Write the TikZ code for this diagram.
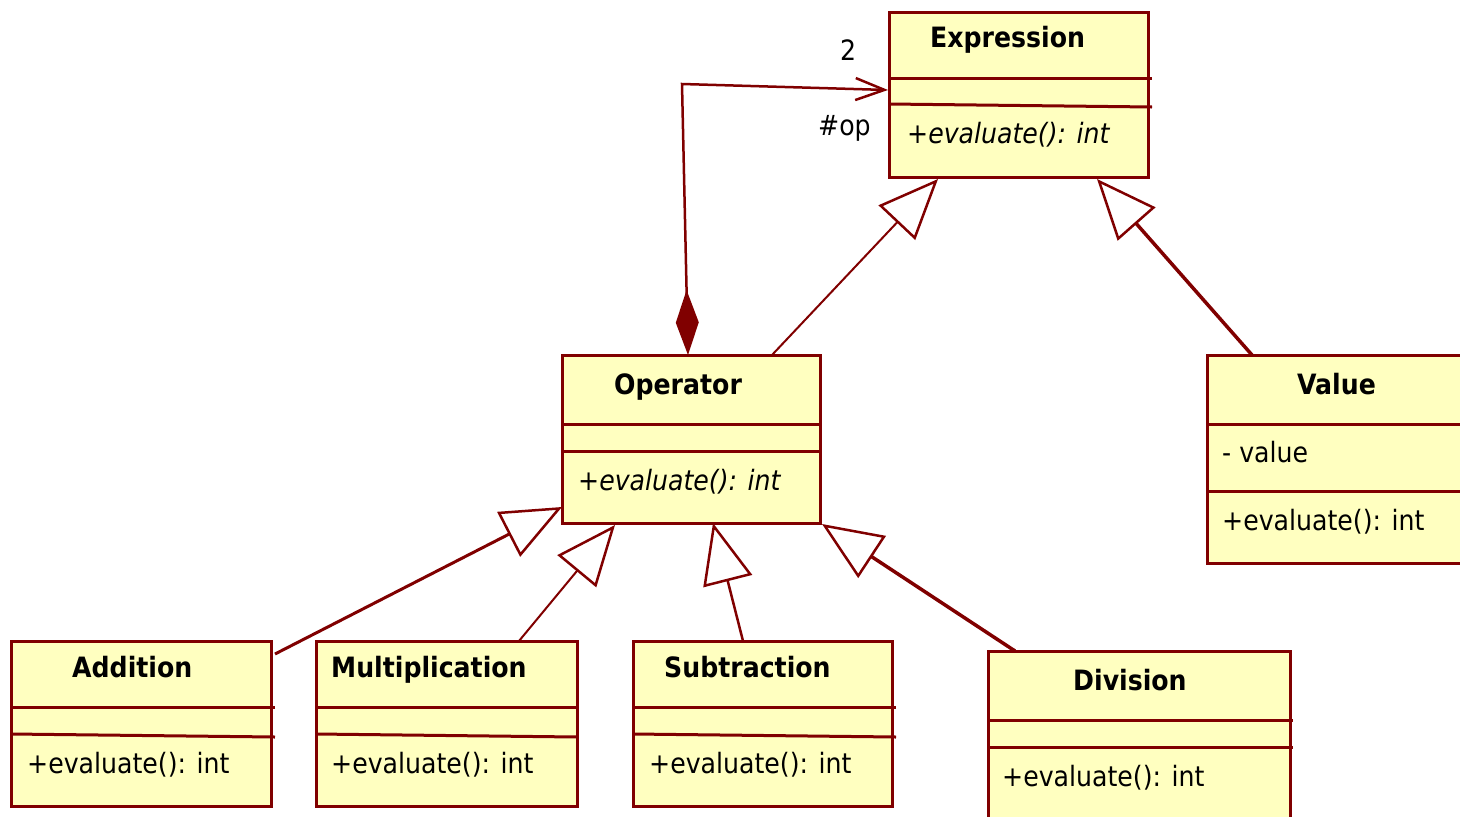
\documentclass[tikz,border=0pt]{standalone}
\usepackage{fontspec}
\setmainfont{DejaVu Sans Condensed}
\usetikzlibrary{arrows.meta}
\definecolor{umlborder}{HTML}{800000}
\definecolor{umlfill}{HTML}{FFFFC0}

\begin{document}
\begin{tikzpicture}[x=1pt,y=-1pt,
  cls/.style={draw=umlborder, fill=umlfill, line width=3pt, anchor=north west,
              inner sep=0pt, outer sep=0pt},
  sep/.style={draw=umlborder, line width=3pt},
  title/.style={anchor=base west, inner sep=0pt, font=\fontsize{28}{32}\selectfont\bfseries},
  member/.style={anchor=base west, inner sep=0pt, font=\fontsize{28}{32}\selectfont},
  abstractop/.style={anchor=base west, inner sep=0pt, font=\fontsize{28}{32}\selectfont\itshape},
  rolelabel/.style={anchor=base west, inner sep=0pt, font=\fontsize{28}{32}\selectfont},
  gen/.style={draw=umlborder, -{Triangle[open, length=60pt, width=50pt, line width=2.5pt]}},
  comp/.style={draw=umlborder, line width=2.5pt,
               {Diamond[length=65pt, width=23pt, fill=umlborder]}-{Straight Barb[length=29pt, width=22pt, line width=2.5pt]}},
]
\useasboundingbox (0,0) rectangle (1460,817);

% ---- Expression (abstract)
\node[cls, minimum width=259pt, minimum height=165pt] (expr) at (889,12) {};
\draw[sep] (889,78) -- (1152,78);
\draw[sep] (889,104) -- (1152,107);
\node[title] (exprT) at (930,47) {Expression};
\node[abstractop] (exprM) at (907,143) {+evaluate(): int};

% ---- Operator (abstract)
\node[cls, minimum width=258pt, minimum height=168pt] (oper) at (562,355) {};
\draw[sep] (562,424) -- (820,424);
\draw[sep] (562,451) -- (820,451);
\node[title] (operT) at (614,394) {Operator};
\node[abstractop] (operM) at (578,490) {+evaluate(): int};

% ---- Value
\node[cls, minimum width=270pt, minimum height=208pt] (value) at (1207,355) {};
\draw[sep] (1207,424) -- (1477,424);
\draw[sep] (1207,491) -- (1477,491);
\node[title] (valueT) at (1297,394) {Value};
\node[member] (valueA) at (1222,462) {- value};
\node[member] (valueM) at (1222,530) {+evaluate(): int};

% ---- Addition
\node[cls, minimum width=260pt, minimum height=165pt] (add) at (11,641) {};
\draw[sep] (11,707) -- (275,707);
\draw[sep] (11,734) -- (275,737);
\node[title] (addT) at (72,677) {Addition};
\node[member] (addM) at (27,773) {+evaluate(): int};

% ---- Multiplication
\node[cls, minimum width=261pt, minimum height=165pt] (mul) at (316,641) {};
\draw[sep] (316,707) -- (577,707);
\draw[sep] (316,734) -- (577,737);
\node[title] (mulT) at (331,677) {Multiplication};
\node[member] (mulM) at (331,773) {+evaluate(): int};

% ---- Subtraction
\node[cls, minimum width=259pt, minimum height=165pt] (sub) at (633,641) {};
\draw[sep] (633,707) -- (896,707);
\draw[sep] (633,734) -- (896,737);
\node[title] (subT) at (664,677) {Subtraction};
\node[member] (subM) at (649,773) {+evaluate(): int};

% ---- Division
\node[cls, minimum width=302pt, minimum height=180pt] (div) at (988,651) {};
\draw[sep] (988,720) -- (1293,720);
\draw[sep] (988,747) -- (1293,747);
\node[title] (divT) at (1073,690) {Division};
\node[member] (divM) at (1002,786) {+evaluate(): int};

% ---- connector end points on the class borders
\coordinate (exprOpIn)   at (888,90);
\coordinate (opBend)     at (682,84);
\coordinate (opWhole)    at (688,355);
\coordinate (exprGenL)   at (938,179);
\coordinate (exprGenR)   at (1097,179);
\coordinate (opGenOut)   at (772,355);
\coordinate (valueGen)   at (1252,355);
\coordinate (opGenAdd)   at (562,507);
\coordinate (opGenMul)   at (615,525);
\coordinate (opGenSub)   at (713,523);
\coordinate (opGenDiv)   at (822,524);
\coordinate (addGen)     at (275,654);
\coordinate (mulGen)     at (519,641);
\coordinate (subGen)     at (743,641);
\coordinate (divGen)     at (1015,651);

% ---- composition: Operator owns two operand Expressions
\draw[comp] (opWhole) -- (opBend) -- (exprOpIn);
\node[rolelabel] (mult) at (840,60) {2};
\node[rolelabel] (role) at (818,135) {\#op};

% ---- generalizations
\draw[gen, line width=2pt]   (opGenOut) -- (exprGenL);
\draw[gen, line width=3.5pt] (valueGen) -- (exprGenR);
\draw[gen, line width=3pt]   (addGen) -- (opGenAdd);
\draw[gen, line width=2pt]   (mulGen) -- (opGenMul);
\draw[gen, line width=2.5pt] (subGen) -- (opGenSub);
\draw[gen, line width=3.5pt] (divGen) -- (opGenDiv);
\end{tikzpicture}
\end{document}
